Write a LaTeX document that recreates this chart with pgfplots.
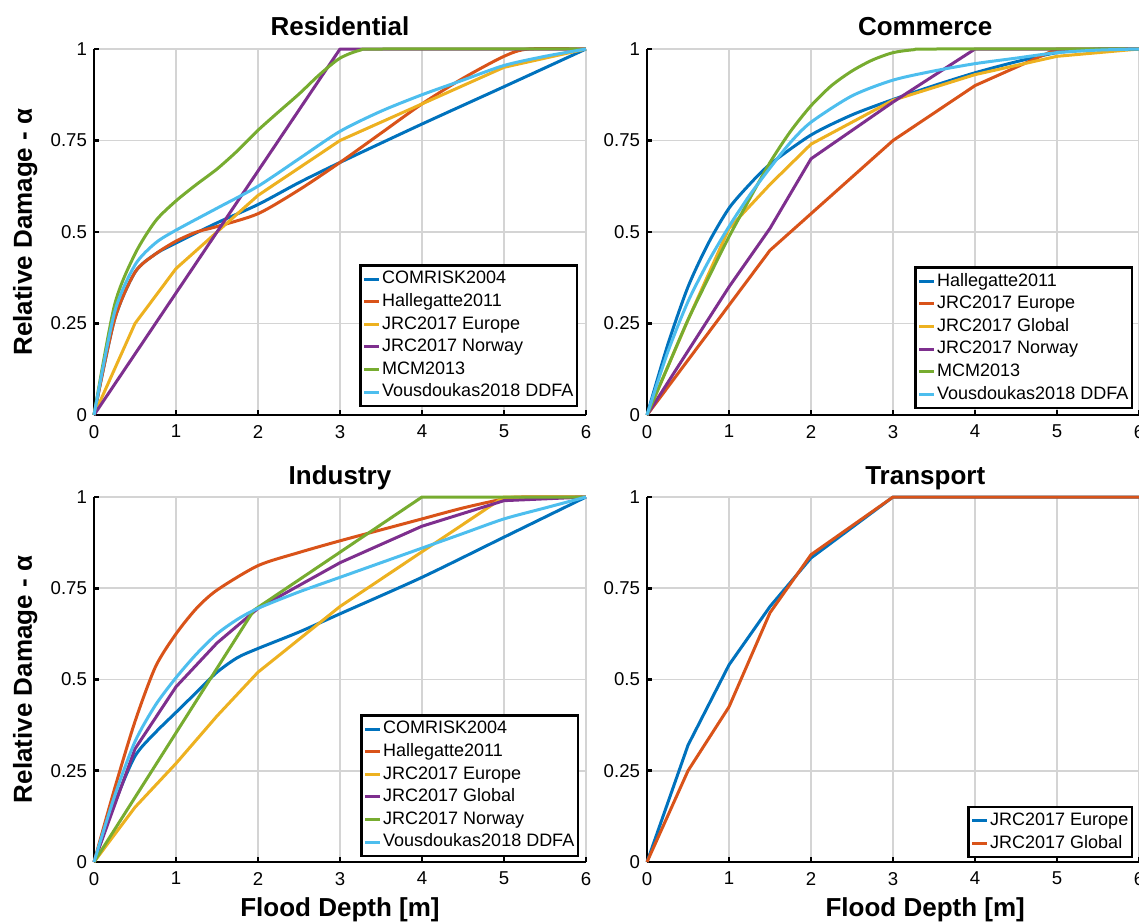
\documentclass[border=0pt]{standalone}
\usepackage{fontspec}
\setmainfont{Liberation Sans}
\usepackage{pgfplots}
\pgfplotsset{compat=1.18}
\definecolor{mblue}{RGB}{0,114,189}
\definecolor{morange}{RGB}{217,83,25}
\definecolor{myellow}{RGB}{237,177,32}
\definecolor{mpurple}{RGB}{126,47,142}
\definecolor{mgreen}{RGB}{119,172,48}
\definecolor{mcyan}{RGB}{77,190,238}
\pgfplotsset{
  panel/.style={
    scale only axis, width=246pt,
    xmin=0,xmax=6,ymin=0,ymax=1,
    xtick={0,1,2,3,4,5,6}, ytick={0,0.25,0.5,0.75,1},
    axis lines=left, axis line style={-, line width=1.4pt, black},
    tick align=inside, major tick length=2.4pt, tick style={line width=1.3pt, black},
    grid=major, major grid style={line width=0.9pt, black!17},
    clip=false,
    tick label style={font=\fontsize{9.3}{11}\selectfont},
    xticklabel style={yshift=-1.5pt},
    /pgf/number format/assume math mode=true,
    title style={font=\bfseries\fontsize{13}{15}\selectfont, anchor=base, yshift=0.8pt},
    label style={font=\bfseries\fontsize{13}{15}\selectfont},
    ylabel style={at={(axis description cs:-0.140,0.5)}, anchor=center, rotate=0},
    legend cell align=left,
    legend style={font=\fontsize{9}{10}\selectfont, draw=black, line width=1.2pt, fill=white,
      anchor=south east, inner xsep=1pt, inner ysep=1.2pt,
      nodes={inner sep=0.8pt, text height=7.3pt, text depth=2.4pt}},
    legend image code/.code={\draw[#1, line width=1.5pt] (0pt,0pt) -- (7.5pt,0pt);},
    every axis plot/.append style={line width=1.5pt, line join=round},
  },
  sm/.style={smooth, tension=0.45},
}
\begin{document}
\begin{tikzpicture}
\useasboundingbox (0pt,0pt) rectangle (569.5pt,-461pt);

% Residential
\begin{axis}[panel, height=183pt, at={(47pt,-207.5pt)}, anchor=south west,
  title={Residential}, ylabel={Relative Damage - α},
  legend style={at={(axis description cs:0.984,0.022)}}]
\addplot[mblue, sm] coordinates {(0,0)(0.25,0.26)(0.5,0.39)(0.75,0.44)(1,0.47)(1.5,0.525)(2,0.575)(2.5,0.635)(3,0.69)(4,0.795)(5,0.897)(6,1)};
\addlegendentry{COMRISK2004}
\addplot[morange, sm] coordinates {(0,0)(0.25,0.26)(0.5,0.39)(0.75,0.44)(1,0.475)(1.25,0.5)(1.5,0.515)(2,0.55)(2.5,0.615)(3,0.69)(3.5,0.77)(4,0.85)(4.5,0.92)(5,0.98)(5.3,1)(6,1)};
\addlegendentry{Hallegatte2011}
\addplot[myellow] coordinates {(0,0)(0.5,0.25)(1,0.4)(1.5,0.5)(2,0.6)(3,0.75)(4,0.85)(5,0.95)(6,1)};
\addlegendentry{JRC2017 Europe}
\addplot[mpurple] coordinates {(0,0)(3,1)(6,1)};
\addlegendentry{JRC2017 Norway}
\addplot[mgreen, sm] coordinates {(0,0)(0.25,0.3)(0.5,0.44)(0.75,0.53)(1,0.585)(1.25,0.63)(1.5,0.672)(1.75,0.722)(2,0.778)(2.25,0.828)(2.5,0.877)(2.75,0.93)(3,0.975)(3.25,0.997)(3.5,1)(6,1)};
\addlegendentry{MCM2013}
\addplot[mcyan, sm] coordinates {(0,0)(0.25,0.28)(0.5,0.41)(0.75,0.47)(1,0.505)(1.5,0.565)(2,0.625)(2.5,0.70)(3,0.775)(3.5,0.83)(4,0.875)(4.5,0.915)(5,0.955)(5.5,0.98)(6,1)};
\addlegendentry{Vousdoukas2018 DDFA}
\end{axis}

% Commerce
\begin{axis}[panel, height=183pt, at={(323.5pt,-207.5pt)}, anchor=south west,
  title={Commerce}, title style={at={(axis description cs:0.5655,1)}},
  legend style={at={(axis description cs:0.988,0.016)}}]
\addplot[mblue, sm] coordinates {(0,0)(0.25,0.19)(0.5,0.35)(0.75,0.47)(1,0.565)(1.25,0.63)(1.5,0.685)(2,0.765)(2.5,0.82)(3,0.862)(3.5,0.9)(4,0.935)(4.5,0.965)(5,0.99)(5.5,1)(6,1)};
\addlegendentry{Hallegatte2011}
\addplot[morange] coordinates {(0,0)(0.5,0.15)(1,0.3)(1.5,0.45)(2,0.55)(3,0.75)(4,0.9)(5,1)(6,1)};
\addlegendentry{JRC2017 Europe}
\addplot[myellow] coordinates {(0,0)(0.5,0.26)(1,0.51)(1.5,0.63)(2,0.74)(3,0.86)(4,0.93)(5,0.98)(6,1)};
\addlegendentry{JRC2017 Global}
\addplot[mpurple] coordinates {(0,0)(0.5,0.175)(1,0.35)(1.5,0.51)(2,0.7)(3,0.855)(4,1)(6,1)};
\addlegendentry{JRC2017 Norway}
\addplot[mgreen, sm] coordinates {(0,0)(0.25,0.13)(0.5,0.26)(0.75,0.375)(1,0.487)(1.25,0.59)(1.5,0.69)(1.75,0.775)(2,0.845)(2.25,0.9)(2.5,0.94)(2.75,0.97)(3,0.99)(3.25,0.998)(3.5,1)(6,1)};
\addlegendentry{MCM2013}
\addplot[mcyan, sm] coordinates {(0,0)(0.25,0.17)(0.5,0.31)(0.75,0.42)(1,0.515)(1.25,0.6)(1.5,0.675)(1.75,0.745)(2,0.8)(2.5,0.872)(3,0.915)(3.5,0.94)(4,0.96)(4.5,0.975)(5,0.99)(5.5,0.997)(6,1)};
\addlegendentry{Vousdoukas2018 DDFA}
\end{axis}

% Industry
\begin{axis}[panel, height=182.5pt, at={(47pt,-431pt)}, anchor=south west,
  title={Industry}, title style={yshift=-0.3pt}, ylabel={Relative Damage - α}, xlabel={Flood Depth [m]},
  xlabel style={at={(axis description cs:0.5,-0.148)}, anchor=base},
  legend style={at={(axis description cs:0.986,0.014)}}]
\addplot[mblue, sm] coordinates {(0,0)(0.25,0.16)(0.5,0.29)(0.75,0.355)(1,0.41)(1.25,0.465)(1.5,0.52)(1.75,0.56)(2,0.585)(2.5,0.63)(3,0.68)(4,0.78)(5,0.89)(6,1)};
\addlegendentry{COMRISK2004}
\addplot[morange, sm] coordinates {(0,0)(0.25,0.2)(0.5,0.385)(0.75,0.535)(1,0.625)(1.25,0.695)(1.5,0.745)(2,0.812)(2.5,0.848)(3,0.88)(3.5,0.91)(4,0.94)(4.5,0.97)(5,0.995)(5.2,1)(6,1)};
\addlegendentry{Hallegatte2011}
\addplot[myellow] coordinates {(0,0)(0.5,0.15)(1,0.27)(1.5,0.4)(2,0.52)(3,0.7)(4,0.85)(5,1)(6,1)};
\addlegendentry{JRC2017 Europe}
\addplot[mpurple] coordinates {(0,0)(0.5,0.31)(1,0.48)(1.5,0.6)(2,0.695)(3,0.82)(4,0.92)(5,0.99)(6,1)};
\addlegendentry{JRC2017 Global}
\addplot[mgreen] coordinates {(0,0)(1.95,0.69)(4,1)(6,1)};
\addlegendentry{JRC2017 Norway}
\addplot[mcyan, sm] coordinates {(0,0)(0.25,0.18)(0.5,0.33)(0.75,0.43)(1,0.505)(1.25,0.57)(1.5,0.625)(1.75,0.665)(2,0.695)(2.5,0.74)(3,0.78)(3.5,0.82)(4,0.86)(4.5,0.9)(5,0.94)(5.5,0.97)(6,1)};
\addlegendentry{Vousdoukas2018 DDFA}
\end{axis}

% Transport
\begin{axis}[panel, height=182.5pt, at={(323.5pt,-431pt)}, anchor=south west,
  title={Transport}, title style={at={(axis description cs:0.5655,1)}, yshift=-0.3pt},
  xlabel={Flood Depth [m]},
  xlabel style={at={(axis description cs:0.5655,-0.148)}, anchor=base},
  legend style={at={(axis description cs:0.988,0.011)}}]
\addplot[mblue] coordinates {(0,0)(0.5,0.32)(1,0.54)(1.5,0.70)(2,0.833)(3,1)(6,1)};
\addlegendentry{JRC2017 Europe}
\addplot[morange] coordinates {(0,0)(0.5,0.25)(1,0.425)(1.5,0.683)(2,0.842)(3,1)(6,1)};
\addlegendentry{JRC2017 Global}
\end{axis}
\end{tikzpicture}
\end{document}
